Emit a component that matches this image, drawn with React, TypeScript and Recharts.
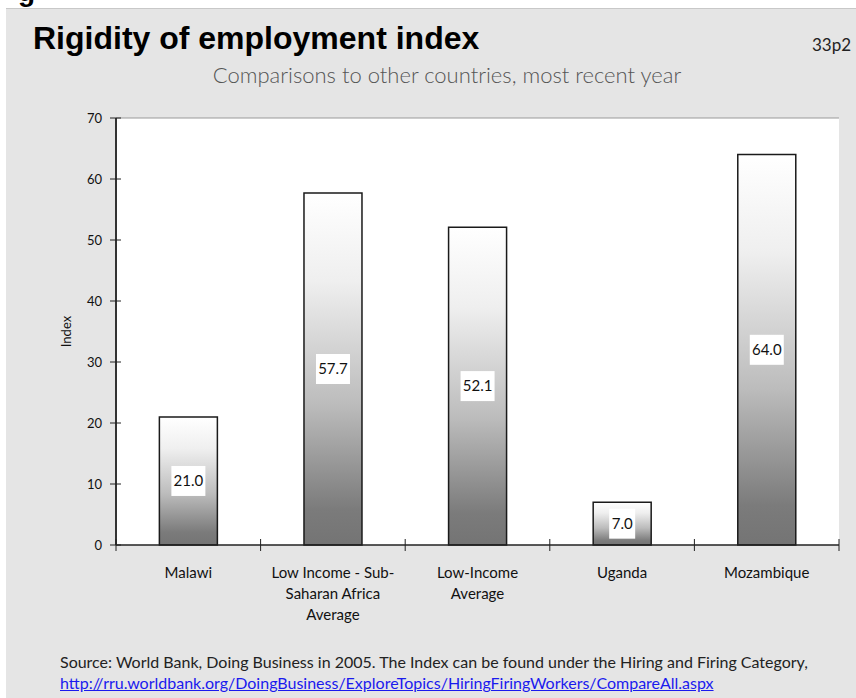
import React from "react";
import {
  BarChart,
  Bar,
  XAxis,
  YAxis,
  CartesianGrid,
  ReferenceLine,
  LabelList,
} from "recharts";

const categories = [
  "Malawi",
  "Low Income - Sub-Saharan Africa Average",
  "Low-Income Average",
  "Uganda",
  "Mozambique",
];
const tickLines = [
  ["Malawi"],
  ["Low Income - Sub-", "Saharan Africa", "Average"],
  ["Low-Income", "Average"],
  ["Uganda"],
  ["Mozambique"],
];
const indexValues = [21.0, 57.7, 52.1, 7.0, 64.0];
const yTicks = [0, 10, 20, 30, 40, 50, 60, 70];

const data = categories.map((name, i) => ({ name, value: indexValues[i] }));

const FONT = "Lato, 'Open Sans', sans-serif";
const CHART_W = 856;
const CHART_H = 640;
const MARGIN = { top: 118, right: 17, left: 56, bottom: 15 };
const Y_AXIS_W = 60;
const X_AXIS_H = 80;
const halfBand = (CHART_W - MARGIN.left - Y_AXIS_W - MARGIN.right) / categories.length / 2;

function XTick(props: any) {
  const { x, y, index, payload } = props;
  const half = payload && payload.offset ? payload.offset : halfBand;
  const lines = tickLines[index] || [String(payload.value)];
  return (
    <g>
      <line x1={x - half} x2={x - half} y1={y - 6} y2={y + 6} stroke="#222" />
      {index === categories.length - 1 && (
        <line x1={x + half} x2={x + half} y1={y - 6} y2={y + 6} stroke="#222" />
      )}
      {lines.map((t, k) => (
        <text
          key={k}
          x={x}
          y={y + 33 + k * 21}
          textAnchor="middle"
          fontSize={15}
          fontFamily={FONT}
          fill="#111"
        >
          {t}
        </text>
      ))}
    </g>
  );
}

function YTick(props: any) {
  const { x, y, payload } = props;
  return (
    <g>
      <line x1={x - 6} x2={x + 5} y1={y} y2={y} stroke="#222" />
      <text
        x={x - 14}
        y={y + 5}
        textAnchor="end"
        fontSize={13}
        fontFamily={FONT}
        fill="#111"
      >
        {payload.value}
      </text>
    </g>
  );
}

function ValueLabel(props: any) {
  const { x, y, width, height, value } = props;
  const cx = x + width / 2;
  const cy = y + height / 2;
  const w = value < 10 ? 26 : 34;
  return (
    <g>
      <rect x={cx - w / 2} y={cy - 15} width={w} height={30} fill="#fff" />
      <text
        x={cx}
        y={cy + 5}
        textAnchor="middle"
        fontSize={15}
        fontFamily={FONT}
        fill="#111"
      >
        {Number(value).toFixed(1)}
      </text>
    </g>
  );
}

export default function App() {
  return (
    <div
      style={{
        position: "absolute",
        left: 0,
        top: 0,
        width: 856,
        height: 698,
        background: "#fff",
        overflow: "hidden",
        fontFamily: FONT,
      }}
    >
      <div
        style={{
          position: "absolute",
          left: 18,
          top: -24,
          fontSize: 28,
          fontWeight: 700,
          fontFamily: "'Liberation Sans', Arial, sans-serif",
          color: "#000",
        }}
      >
        g
      </div>
      <div
        style={{
          position: "absolute",
          left: 6,
          top: 8,
          width: 850,
          height: 690,
          background: "#e5e5e5",
          borderTop: "1px solid #c8c8c8",
        }}
      />
      <div
        style={{
          position: "absolute",
          left: 33,
          top: 20,
          fontSize: 32,
          fontWeight: 700,
          fontFamily: "'Liberation Sans', Arial, sans-serif",
          color: "#000",
          whiteSpace: "nowrap",
        }}
      >
        Rigidity of employment index
      </div>
      <div
        style={{
          position: "absolute",
          left: 812,
          top: 34,
          fontSize: 17,
          color: "#222",
          whiteSpace: "nowrap",
        }}
      >
        33p2
      </div>
      <div
        style={{
          position: "absolute",
          left: 190,
          top: 61,
          width: 514,
          textAlign: "center",
          fontSize: 22,
          fontWeight: 300,
          color: "#555",
          whiteSpace: "nowrap",
        }}
      >
        Comparisons to other countries, most recent year
      </div>
      <div style={{ position: "absolute", left: 0, top: 0 }}>
        <BarChart
          width={CHART_W}
          height={CHART_H}
          data={data}
          margin={MARGIN}
          barCategoryGap="30%"
        >
          <defs>
            <linearGradient id="barGrad" x1="0" y1="0" x2="0" y2="1">
              <stop offset="0%" stopColor="#ffffff" />
              <stop offset="25%" stopColor="#efefef" />
              <stop offset="60%" stopColor="#bcbcbc" />
              <stop offset="90%" stopColor="#7b7b7b" />
              <stop offset="100%" stopColor="#747474" />
            </linearGradient>
          </defs>
          <CartesianGrid fill="#fff" horizontal={false} vertical={false} />
          <XAxis
            dataKey="name"
            height={X_AXIS_H}
            interval={0}
            tickSize={0}
            tickMargin={0}
            tickLine={false}
            axisLine={{ stroke: "#222", strokeWidth: 1.5 }}
            tick={<XTick />}
          />
          <YAxis
            width={Y_AXIS_W}
            domain={[0, 70]}
            ticks={yTicks}
            interval={0}
            tickSize={0}
            tickMargin={0}
            tickLine={false}
            axisLine={{ stroke: "#333", strokeWidth: 2 }}
            tick={<YTick />}
            label={{
              value: "Index",
              angle: -90,
              position: "insideLeft",
              offset: 10,
              style: { fontSize: 13, fontFamily: FONT, fill: "#111", textAnchor: "middle" },
            }}
          />
          <YAxis
            yAxisId="right"
            orientation="right"
            width={0}
            domain={[0, 70]}
            tick={false}
            tickLine={false}
            axisLine={{ stroke: "#aaa", strokeWidth: 2 }}
          />
          <ReferenceLine y={70} stroke="#999" strokeWidth={1} />
          <Bar
            dataKey="value"
            fill="url(#barGrad)"
            stroke="#1a1a1a"
            strokeWidth={1.5}
            isAnimationActive={false}
          >
            <LabelList dataKey="value" content={<ValueLabel />} />
          </Bar>
        </BarChart>
      </div>
      <div
        style={{
          position: "absolute",
          left: 60,
          top: 651,
          fontSize: 16,
          lineHeight: "21px",
          color: "#222",
          whiteSpace: "nowrap",
        }}
      >
        Source: World Bank, Doing Business in 2005. The Index can be found under the Hiring and Firing Category,
        <br />
        <a
          href="http://rru.worldbank.org/DoingBusiness/ExploreTopics/HiringFiringWorkers/CompareAll.aspx"
          style={{ color: "#1a1aee", textDecoration: "underline" }}
        >
          http://rru.worldbank.org/DoingBusiness/ExploreTopics/HiringFiringWorkers/CompareAll.aspx
        </a>
      </div>
    </div>
  );
}
